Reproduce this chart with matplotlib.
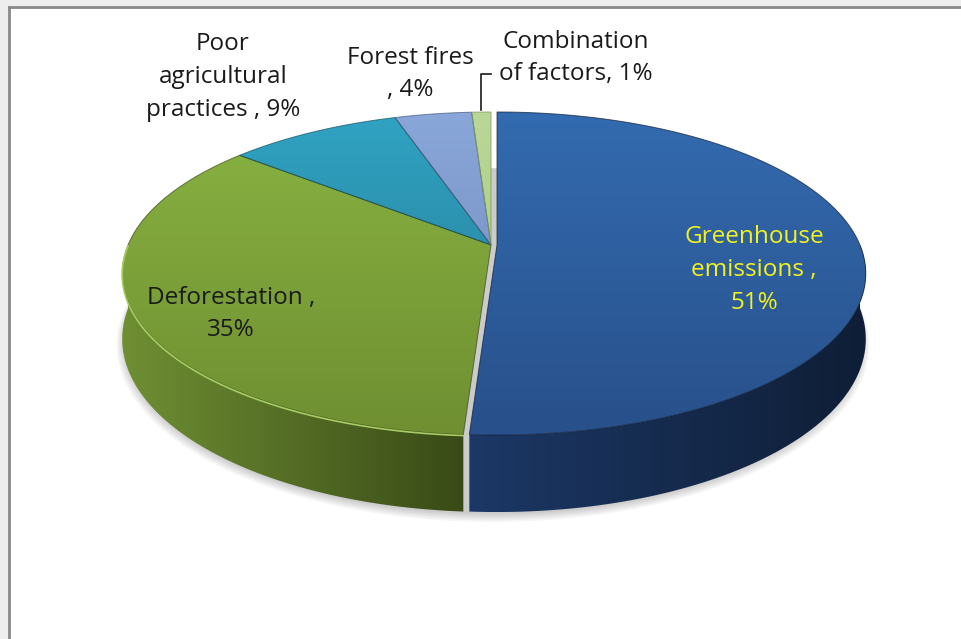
import numpy as np
import matplotlib
matplotlib.use('Agg')
import matplotlib.pyplot as plt
from matplotlib.patches import Polygon, Rectangle
from matplotlib.colors import to_rgb

# données du graphique
names = ['Greenhouse\nemissions ,', 'Deforestation ,', 'Poor\nagricultural\npractices ,',
         'Forest fires\n,', 'Combination\nof factors,']
seps = ['\n', '\n', ' ', ' ', ' ']
values = [51, 35, 9, 4, 1]

top_colors = [('#336bb0', '#28508a'), ('#89b342', '#6f8f31'), ('#31a3c3', '#22778f'),
              ('#8aa7da', '#6c84b5'), ('#b9d796', '#a5c47e')]
side_colors = [('#1c3866', '#0f1e36'), ('#6f8f33', '#394a17'), ('#1f6f85', '#15505f'),
               ('#5a6f98', '#45577a'), ('#8ea86a', '#7a925a')]
text_colors = ['#f2f21e', '#1a1a1a', '#1a1a1a', '#1a1a1a', '#1a1a1a']
label_pos = [(754, 270), (231, 314), (223, 77), (410, 74), (576, 58)]
explode_px = [6, 0, 0, 0, 0]

# géométrie de la vue 3D (pixels)
A, B, K, CX, CY, D = 363, 156.5, 0.1765, 491, 245, 63.4


def proj(t, z=0.0, r=1.0, dx=0.0):
    u = r * np.sin(t)
    v = r * np.cos(t)
    s = 1 / (1 + K * v)
    return CX + A * u * s + dx, CY - B * v * s + z * D * s


def grad_fill(ax, xs, ys, c1, c2, horizontal, zorder, ext=None):
    poly = Polygon(np.column_stack([xs, ys]), closed=True, facecolor='none',
                   edgecolor='none', zorder=zorder)
    ax.add_patch(poly)
    if ext is None:
        ext = (min(xs), max(xs), min(ys), max(ys))
    x0, x1, y0, y1 = ext
    n = 256
    c1, c2 = np.array(to_rgb(c1)), np.array(to_rgb(c2))
    w = np.linspace(0, 1, n)[:, None]
    cols = c1 * (1 - w) + c2 * w
    if horizontal:
        img = cols[None, :, :]
    else:
        img = cols[:, None, :]
    im = ax.imshow(img, extent=(x0, x1, y1, y0), origin='upper', aspect='auto',
                   interpolation='bilinear', zorder=zorder)
    im.set_clip_path(poly)


fig = plt.figure(figsize=(9.61, 6.39), dpi=100)
ax = fig.add_axes([0, 0, 1, 1])
ax.set_axis_off()

# cadre
ax.add_patch(Rectangle((0, 0), 961, 7, facecolor='#eeeeee', edgecolor='none', zorder=0))
ax.add_patch(Rectangle((0, 0), 9, 639, facecolor='#eeeeee', edgecolor='none', zorder=0))
ax.plot([9, 961], [7, 7], color='#8a8a8a', lw=2, zorder=1)
ax.plot([9, 9], [7, 639], color='#8a8a8a', lw=2, zorder=1)

total = sum(values)
bounds = np.concatenate([[0], np.cumsum(values)]) / total * 2 * np.pi
tt = np.linspace(0, 2 * np.pi, 400)

# ombre
for i in range(6):
    sx, sy = proj(tt, 1.0, 1.0 + 0.004 * i)
    ax.fill(sx + 2, sy + 2 + i * 0.6, color='#000000', alpha=0.035, lw=0, zorder=1.5)

# parois extérieures
for i, v in enumerate(values):
    t1, t2 = bounds[i], bounds[i + 1]
    lo, hi = max(t1, np.pi / 2), min(t2, 3 * np.pi / 2)
    if lo >= hi:
        continue
    ts = np.linspace(lo, hi, 150)
    xt, yt = proj(ts, 0, 1, explode_px[i])
    xb, yb = proj(ts[::-1], 1, 1, explode_px[i])
    xs = np.concatenate([xt, xb])
    ys = np.concatenate([yt, yb])
    grad_fill(ax, xs, ys, side_colors[i][0], side_colors[i][1], True, 2 + i * 0.1)

# face radiale visible de la part détachée
fx, fy = [], []
for z, r in [(0, 0), (0, 1), (1, 1), (1, 0)]:
    x, y = proj(0.0, z, r, explode_px[0])
    fx.append(x)
    fy.append(y)
ax.fill(fx, fy, color='#a0a0a0', lw=0, zorder=3)

# faces supérieures
ytop = proj(0.0)[1]
ybot = proj(np.pi)[1]
for i, v in enumerate(values):
    t1, t2 = bounds[i], bounds[i + 1]
    ts = np.linspace(t1, t2, max(int(200 * v / total) + 10, 10))
    ax_, ay_ = proj(ts, 0, 1, explode_px[i])
    cx0, cy0 = proj(0.0, 0, 0, explode_px[i])
    xs = np.concatenate([[cx0], ax_])
    ys = np.concatenate([[cy0], ay_])
    grad_fill(ax, xs, ys, top_colors[i][0], top_colors[i][1], False, 5 + i * 0.1,
              ext=(CX - A * 1.05, CX + A * 1.05, ytop, ybot))
    ax.fill(xs, ys, facecolor='none', edgecolor=side_colors[i][1], lw=0.7,
            alpha=0.7, zorder=5.5)

# liseré clair sur le bord avant de la part verte
ts = np.linspace(bounds[1], 3 * np.pi / 2, 150)
hx, hy = proj(ts, 0, 1, explode_px[1])
ax.plot(hx, hy + 1, color='#a6cc62', lw=1.2, zorder=6)

# étiquettes
plt.rcParams['font.family'] = ['Open Sans', 'DejaVu Sans']
for i, v in enumerate(values):
    label = names[i] + seps[i] + f'{v}%'
    ax.text(label_pos[i][0], label_pos[i][1], label, ha='center', va='center',
            fontsize=17.5, color=text_colors[i], linespacing=1.48, zorder=10,
            family=['Open Sans', 'DejaVu Sans'])

# ligne de rappel
ax.plot([481, 481, 491], [110, 74, 74], color='#1a1a1a', lw=1.2, zorder=10)

ax.set_xlim(0, 961)
ax.set_ylim(639, 0)
fig.savefig('out.png', dpi=100)
